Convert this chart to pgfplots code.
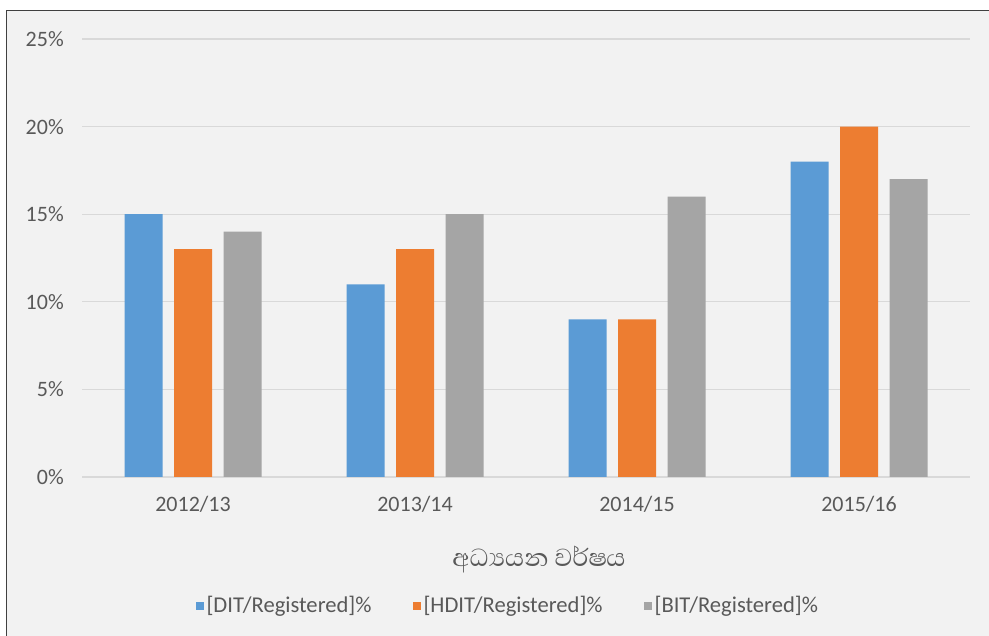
\documentclass[border=0pt]{standalone}
\usepackage{pgfplots}
\pgfplotsset{compat=1.18}
\usepackage{fontspec}
\setmainfont{Carlito}
\newfontfamily\sinhala[Script=Sinhala]{Abhaya Libre}
\definecolor{bgray}{HTML}{F2F2F2}
\definecolor{txt}{HTML}{595959}
\definecolor{gridc}{HTML}{D9D9D9}
\definecolor{c1}{HTML}{5B9BD5}
\definecolor{c2}{HTML}{ED7D31}
\definecolor{c3}{HTML}{A5A5A5}
\begin{document}
\begin{tikzpicture}
% page and chart background
\fill[white] (0,0) rectangle (494.5pt,318pt);
\fill[bgray] (3.25pt,0) rectangle (494.5pt,312.75pt);
\draw[black!75, line width=0.8pt] (3.25pt,0) -- (3.25pt,312.75pt) -- (494.5pt,312.75pt);
\begin{axis}[
    at={(41pt,79.5pt)}, anchor=south west,
    scale only axis,
    width=444pt, height=219pt,
    ybar=5.75pt, bar width=19pt,
    xmin=-0.5, xmax=3.5,
    ymin=0, ymax=25,
    xtick={0,1,2,3},
    xticklabels={2012/13,2013/14,2014/15,2015/16},
    ytick={0,5,10,15,20,25},
    yticklabel={\pgfmathprintnumber{\tick}\%},
    /pgf/number format/assume math mode=true,
    ymajorgrids, grid style={gridc, line width=0.6pt},
    axis line style={draw=none},
    major tick length=0pt,
    tick label style={font=\fontsize{11}{13}\selectfont, text=txt},
    yticklabel style={xshift=-5.6pt},
    xticklabel style={yshift=-6.3pt},
    xlabel={\sinhala අධ්‍යයන වර්ෂය},
    xlabel style={font=\fontsize{15.8}{18}\selectfont, text=txt, at={(0.5,0)}, anchor=center, yshift=-41pt, xshift=6.5pt},
    legend columns=3,
    legend style={at={(0.48,-0.2945)}, anchor=center, draw=none, fill=none,
        font=\fontsize{11.3}{13}\selectfont, text=txt,
        /tikz/every even column/.append style={column sep=19pt},
        nodes={inner sep=1.5pt}},
    legend image code/.code={\fill[#1] (0pt,-2pt) rectangle (4pt,2pt);},
]
\addplot[fill=c1, draw=none] coordinates {(0,15) (1,11) (2,9) (3,18)};
\addlegendentry{\relax[DIT/Registered]\%}
\addplot[fill=c2, draw=none] coordinates {(0,13) (1,13) (2,9) (3,20)};
\addlegendentry{\relax[HDIT/Registered]\%}
\addplot[fill=c3, draw=none] coordinates {(0,14) (1,15) (2,16) (3,17)};
\addlegendentry{\relax[BIT/Registered]\%}
\end{axis}
\pgfresetboundingbox
\path[use as bounding box] (0,0) rectangle (494.5pt,318pt);
\end{tikzpicture}
\end{document}
